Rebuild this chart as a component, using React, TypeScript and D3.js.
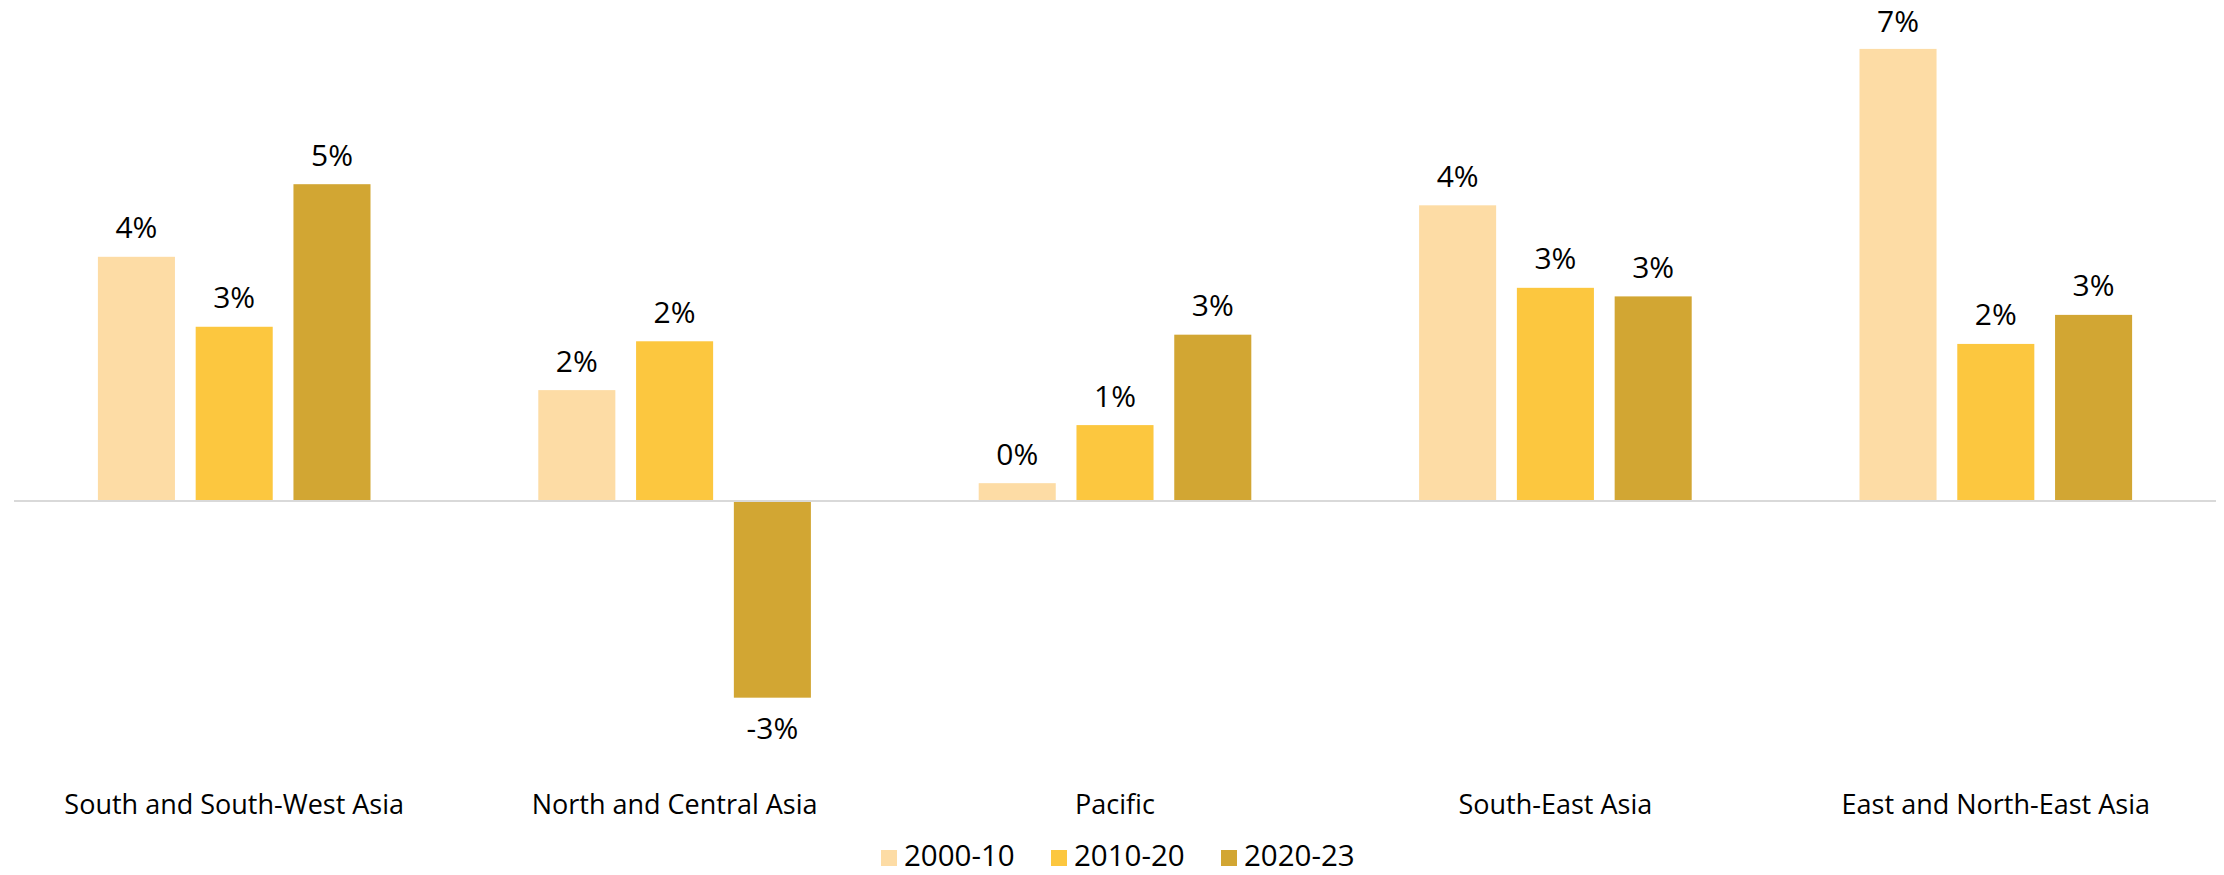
import React from "react";
import * as d3 from "d3";

const categories = [
  "South and South-West Asia",
  "North and Central Asia",
  "Pacific",
  "South-East Asia",
  "East and North-East Asia",
];
const seriesNames = ["2000-10", "2010-20", "2020-23"];
const s2000_10 = [3.7, 1.68, 0.27, 4.48, 6.85];
const s2010_20 = [2.64, 2.42, 1.15, 3.23, 2.38];
const s2020_23 = [4.8, -2.98, 2.52, 3.1, 2.82];
const seriesValues = [s2000_10, s2010_20, s2020_23];
const colors = ["#FDDCA5", "#FCC73F", "#D2A633"];

const W = 2224;
const H = 875;
const FONT = "'Open Sans', 'DejaVu Sans', sans-serif";

export default function App() {
  const x0 = d3.scaleBand<string>().domain(categories).range([14, 2216]).paddingInner(0).paddingOuter(0);
  const x1 = d3
    .scaleBand<string>()
    .domain(seriesNames)
    .range([0, x0.bandwidth()])
    .paddingInner(0.212)
    .paddingOuter(0.858);
  const y = d3.scaleLinear().domain([-4, 8]).range([501 + 4 * 66, 501 - 8 * 66]);
  const fmt = (v: number) => d3.format(".0f")(v).replace("\u2212", "-") + "%";
  const y0 = y(0);

  return (
    <svg
      width={W}
      height={H}
      style={{ position: "absolute", left: 0, top: 0, background: "#fff" }}
      fontFamily={FONT}
    >
      <rect x={0} y={0} width={W} height={H} fill="#fff" />
      {categories.map((cat, ci) => (
        <g key={cat} transform={`translate(${x0(cat)},0)`}>
          {seriesNames.map((s, si) => {
            const v = seriesValues[si][ci];
            const top = Math.min(y(v), y0);
            const h = Math.abs(y(v) - y0);
            const bx = x1(s)!;
            const cx = bx + x1.bandwidth() / 2;
            return (
              <g key={s}>
                <rect x={bx} y={top} width={x1.bandwidth()} height={h} fill={colors[si]} />
                <text
                  x={cx}
                  y={v >= 0 ? Math.max(y(v) - 18.5, 32) : y(v) + 41.5}
                  textAnchor="middle"
                  fontSize={30}
                  fill="#000"
                >
                  {fmt(v)}
                </text>
              </g>
            );
          })}
          <text x={x0.bandwidth() / 2} y={814} textAnchor="middle" fontSize={27} fill="#000">
            {cat}
          </text>
        </g>
      ))}
      <line x1={14} x2={2216} y1={y0} y2={y0} stroke="#D9D9D9" strokeWidth={2} />
      {seriesNames.map((s, i) => (
        <g key={s} transform={`translate(${881 + i * 170},0)`}>
          <rect x={0} y={850} width={16} height={16} fill={colors[i]} />
          <text x={23} y={866} fontSize={29.5} fill="#000">
            {s}
          </text>
        </g>
      ))}
    </svg>
  );
}
